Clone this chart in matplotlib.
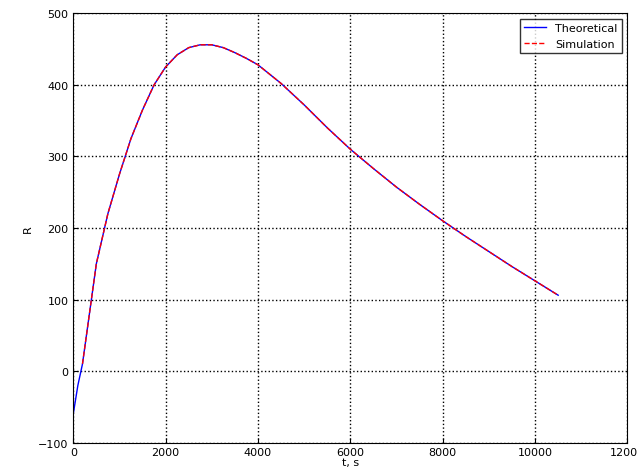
import matplotlib.pyplot as plt

t_theory = [0, 100, 200, 350, 500, 750, 1000, 1250, 1500, 1750, 2000, 2250, 2500,
            2750, 3000, 3250, 3500, 3750, 4000, 4500, 5000, 5500, 6000, 6500,
            7000, 7500, 8000, 8500, 9000, 9500, 10000, 10500]
r_theory = [-60, -20, 10, 80, 150, 220, 275, 325, 365, 400, 425, 442, 452,
            456, 456, 452, 445, 437, 428, 402, 372, 340, 310, 283,
            257, 233, 210, 188, 167, 146, 126, 106]
t_sim = t_theory[2:]
r_sim = r_theory[2:]

fig = plt.figure(figsize=(6.37, 4.77), dpi=100)
ax = fig.add_axes([0.115, 0.07, 0.87, 0.90])
ax.plot(t_theory, r_theory, color='blue', lw=1, label='Theoretical')
ax.plot(t_sim, r_sim, color='red', lw=1, ls='--', label='Simulation')
ax.set_xlim(0, 12000)
ax.set_ylim(-100, 500)
ax.set_xticks(range(0, 12001, 2000))
ax.set_yticks(range(-100, 501, 100))
ax.grid(True, color='black', linestyle=':', linewidth=1)
ax.tick_params(labelsize=8, direction='in')
ax.set_xlabel('t, s', fontsize=8, labelpad=0)
ax.set_ylabel('R', fontsize=8)
ax.legend(loc='upper right', fontsize=8, fancybox=False, edgecolor='black')
fig.savefig('out.png')
